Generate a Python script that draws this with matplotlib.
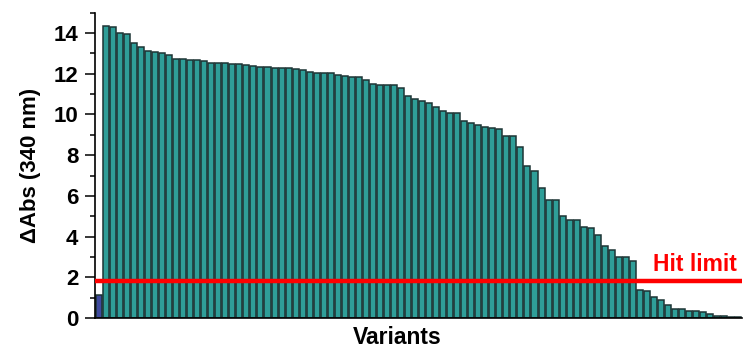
import numpy as np
import matplotlib
matplotlib.use("Agg")
import matplotlib.pyplot as plt
from matplotlib.ticker import MultipleLocator


# control first, then the sorted variants
values = [
    1.11,
    14.36, 14.31, 14.00, 13.93, 13.51, 13.31, 13.13, 13.07, 13.00, 12.92,
    12.71, 12.71, 12.70, 12.66, 12.63, 12.55, 12.53, 12.53, 12.50, 12.46,
    12.42, 12.37, 12.32, 12.32, 12.29, 12.29, 12.26, 12.22, 12.18, 12.07,
    12.04, 12.02, 12.02, 11.94, 11.89, 11.86, 11.84, 11.71, 11.52, 11.47,
    11.47, 11.44, 11.29, 10.90, 10.74, 10.66, 10.56, 10.39, 10.18, 10.08,
    10.07, 9.66, 9.56, 9.48, 9.40, 9.35, 9.28, 8.96, 8.95, 8.42,
    7.49, 7.24, 6.40, 5.81, 5.79, 4.99, 4.80, 4.80, 4.47, 4.44,
    4.06, 3.52, 3.36, 3.02, 3.01, 2.82, 1.37, 1.34, 1.01, 0.88,
    0.62, 0.46, 0.44, 0.34, 0.34, 0.29, 0.20, 0.11, 0.10, 0.05,
    0.03,
]
hit_limit = 1.8
yticks = [0, 2, 4, 6, 8, 10, 12, 14]

TEAL = "#2f9e98"
BLUE = "#3f4a9e"
EDGE = "#1c3434"

plt.rcParams["font.family"] = ["Liberation Sans", "DejaVu Sans"]
plt.rcParams["font.weight"] = "bold"

fig = plt.figure(figsize=(7.44, 3.56), dpi=100)
ax = fig.add_axes([0.1277, 0.1067, 0.8693, 0.8576])

x = np.arange(len(values))
colors = [BLUE] + [TEAL] * (len(values) - 1)
ax.bar(x, values, width=0.86, color=colors, edgecolor=EDGE, linewidth=1.1)

ax.axhline(hit_limit, color="#ff0000", linewidth=3.2, zorder=5)
ax.text(len(values) - 1.2, 2.3, "Hit limit", color="#ff0000", fontsize=16.5,
        fontweight="bold", ha="right", va="baseline")

ax.set_xlim(-0.55, len(values) - 0.5)
ax.set_ylim(0, 15)
ax.set_yticks(yticks)
ax.yaxis.set_minor_locator(MultipleLocator(1))
ax.set_xticks([])

for side in ["top", "right"]:
    ax.spines[side].set_visible(False)
for side in ["left", "bottom"]:
    ax.spines[side].set_linewidth(1.2)

ax.tick_params(axis="y", which="major", length=7, width=1.1, pad=5,
               labelsize=16)
ax.tick_params(axis="y", which="minor", length=3.6, width=1.1)
for lbl in ax.get_yticklabels():
    lbl.set_fontweight("bold")

ax.set_ylabel("\u0394Abs (340 nm)", fontsize=16, fontweight="bold", labelpad=9)
ax.set_xlabel("Variants", fontsize=16.5, fontweight="bold")
ax.xaxis.set_label_coords(0.4675, -0.025, transform=ax.transAxes)
ax.xaxis.label.set_va("top")

fig.savefig("out.png", dpi=100)
